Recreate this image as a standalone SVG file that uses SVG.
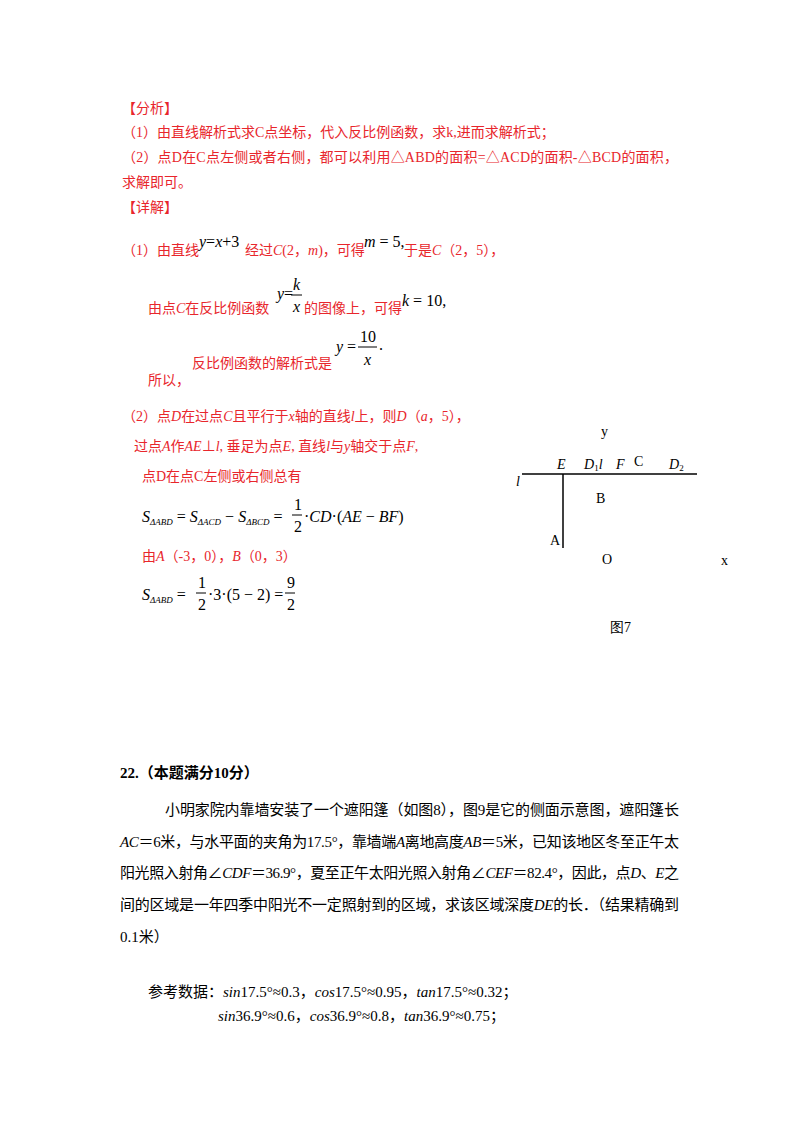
<svg xmlns="http://www.w3.org/2000/svg" width="800" height="1132" viewBox="0 0 800 1132">
<style>
.r{fill:#e8262c;font-family:"Liberation Serif","Noto Sans CJK SC",serif;font-size:14px}
.m{fill:#000;font-family:"Liberation Serif",serif;font-size:16px}
.i{font-style:italic}
.k{fill:#000;font-family:"Liberation Serif","Noto Sans CJK SC",serif;font-size:15px}
.f{fill:#000;font-family:"Liberation Serif",serif;font-size:14px}
.bar{stroke:#000;stroke-width:1}
</style>
<rect width="800" height="1132" fill="#fff"/>
<g id="analysis">
<text class="r" x="122" y="113">【分析】</text>
<text class="r" x="122" y="137">（1）由直线解析式求C点坐标，代入反比例函数，求k,进而求解析式；</text>
<text class="r" x="122" y="162" textLength="556">（2）点D在C点左侧或者右侧，都可以利用△ABD的面积=△ACD的面积-△BCD的面积，</text>
<text class="r" x="122" y="187">求解即可。</text>
<text class="r" x="122" y="212">【详解】</text>
</g>
<g id="part1">
<text class="r" x="122" y="255">（1）由直线</text>
<text class="m i" x="199" y="247" font-size="13">y<tspan font-style="normal">=</tspan>x<tspan font-style="normal">+3</tspan></text>
<text class="r" x="245" y="255">经过<tspan class="i">C</tspan>(2，<tspan class="i">m</tspan>)，可得</text>
<text class="m i" x="364" y="247" font-size="15">m<tspan font-style="normal"> = 5,</tspan></text>
<text class="r" x="404" y="255">于是<tspan class="i">C</tspan>（2，5），</text>
<text class="r" x="148" y="313">由点<tspan class="i">C</tspan>在反比例函数</text>
<text class="m i" x="277" y="299">y<tspan font-style="normal">=</tspan></text>
<text class="m i" x="293" y="290">k</text>
<line class="bar" x1="291" y1="295" x2="302" y2="295"/>
<text class="m i" x="293" y="312">x</text>
<text class="r" x="304" y="313">的图像上，可得</text>
<text class="m i" x="402" y="306" font-size="15">k<tspan font-style="normal"> = 10,</tspan></text>
<text class="m i" x="336" y="352" font-size="14">y<tspan font-style="normal"> = </tspan></text>
<text class="m" x="360" y="342" font-size="14">10</text>
<line class="bar" x1="358" y1="347" x2="377" y2="347"/>
<text class="m i" x="364" y="365" font-size="14">x</text>
<text class="m" x="379" y="350" font-size="14">.</text>
<text class="r" x="192" y="368">反比例函数的解析式是</text>
<text class="r" x="148" y="385">所以，</text>
</g>
<g id="part2">
<text class="r" x="122" y="421">（2）点<tspan class="i">D</tspan>在过点<tspan class="i">C</tspan>且平行于<tspan class="i">x</tspan>轴的直线<tspan class="i">l</tspan>上，则<tspan class="i">D</tspan>（<tspan class="i">a</tspan>，5），</text>
<text class="r" x="134" y="451">过点<tspan class="i">A</tspan>作<tspan class="i">AE</tspan>⊥<tspan class="i">l</tspan>, 垂足为点<tspan class="i">E</tspan>, 直线<tspan class="i">l</tspan>与<tspan class="i">y</tspan>轴交于点<tspan class="i">F</tspan>,</text>
<text class="r" x="142" y="481">点D在点C左侧或右侧总有</text>
<text class="m i" x="142" y="522">S<tspan font-size="9" dy="3">ΔABD</tspan><tspan font-style="normal" dy="-3"> = </tspan>S<tspan font-size="9" dy="3">ΔACD</tspan><tspan font-style="normal" dy="-3"> − </tspan>S<tspan font-size="9" dy="3">ΔBCD</tspan><tspan font-style="normal" dy="-3"> = </tspan></text>
<text class="m" x="294" y="510">1</text>
<line class="bar" x1="292" y1="515" x2="302" y2="515"/>
<text class="m" x="294" y="532">2</text>
<text class="m i" x="304" y="522"><tspan font-style="normal">·</tspan>CD<tspan font-style="normal">·(</tspan>AE<tspan font-style="normal"> − </tspan>BF<tspan font-style="normal">)</tspan></text>
<text class="r" x="142" y="561">由<tspan class="i">A</tspan>（-3，0），<tspan class="i">B</tspan>（0，3）</text>
<text class="m i" x="142" y="600">S<tspan font-size="9" dy="3">ΔABD</tspan><tspan font-style="normal" dy="-3"> = </tspan></text>
<text class="m" x="198" y="588">1</text>
<line class="bar" x1="196" y1="593" x2="206" y2="593"/>
<text class="m" x="198" y="610">2</text>
<text class="m" x="208" y="600">·3·(5 − 2) = </text>
<text class="m" x="287" y="588">9</text>
<line class="bar" x1="285" y1="593" x2="295" y2="593"/>
<text class="m" x="287" y="610">2</text>
</g>
<g id="figure7">
<line x1="522" y1="474" x2="697" y2="474" stroke="#000" stroke-width="1.5"/>
<line x1="563" y1="474" x2="563" y2="548" stroke="#000" stroke-width="1.5"/>
<text class="f" x="601" y="436">y</text>
<text class="f i" x="557" y="469">E</text>
<text class="f i" x="584" y="469">D<tspan font-size="9" dy="2" font-style="normal">1</tspan><tspan dy="-2">l</tspan></text>
<text class="f i" x="616" y="469">F</text>
<text class="f" x="634" y="466">C</text>
<text class="f i" x="669" y="469">D<tspan font-size="9" dy="2" font-style="normal">2</tspan></text>
<text class="f i" x="516" y="486">l</text>
<text class="f" x="596" y="503">B</text>
<text class="f" x="550" y="545">A</text>
<text class="f" x="602" y="564">O</text>
<text class="f" x="721" y="565">x</text>
<text class="f" x="610" y="632" font-family="Liberation Serif,Noto Sans CJK SC,serif">图7</text>
</g>
<g id="q22">
<text class="k" x="120" y="778" font-weight="bold">22.（本题满分10分）</text>
<text class="k" x="165" y="815" textLength="514">小明家院内靠墙安装了一个遮阳篷（如图8），图9是它的侧面示意图，遮阳篷长</text>
<text class="k" x="120" y="847" textLength="559"><tspan class="i">AC</tspan>＝6米，与水平面的夹角为17.5°，靠墙端<tspan class="i">A</tspan>离地高度<tspan class="i">AB</tspan>＝5米，已知该地区冬至正午太</text>
<text class="k" x="120" y="878" textLength="559">阳光照入射角∠<tspan class="i">CDF</tspan>＝36.9°，夏至正午太阳光照入射角∠<tspan class="i">CEF</tspan>＝82.4°，因此，点<tspan class="i">D</tspan>、<tspan class="i">E</tspan>之</text>
<text class="k" x="120" y="910" textLength="559">间的区域是一年四季中阳光不一定照射到的区域，求该区域深度<tspan class="i">DE</tspan>的长．（结果精确到</text>
<text class="k" x="120" y="942">0.1米）</text>
<text class="k" x="148" y="997" font-size="14"><tspan>参考数据：</tspan><tspan class="i">sin</tspan>17.5°≈0.3，<tspan class="i">cos</tspan>17.5°≈0.95，<tspan class="i">tan</tspan>17.5°≈0.32；</text>
<text class="k" x="218" y="1021" font-size="14"><tspan class="i">sin</tspan>36.9°≈0.6，<tspan class="i">cos</tspan>36.9°≈0.8，<tspan class="i">tan</tspan>36.9°≈0.75；</text>
</g>
</svg>
